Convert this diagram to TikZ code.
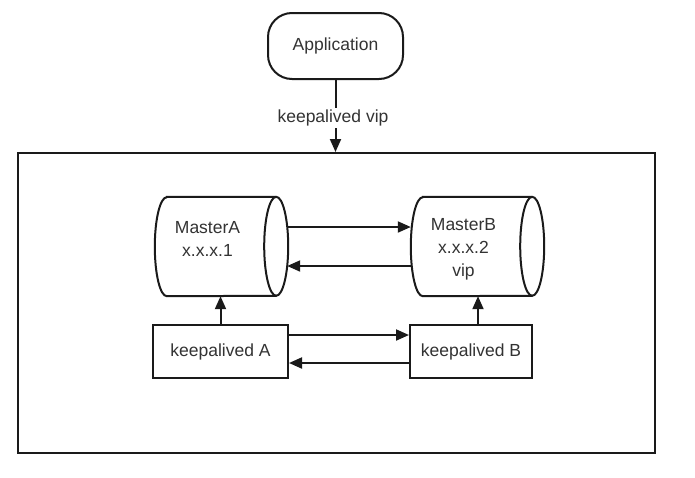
\documentclass[tikz,border=0pt]{standalone}
\usepackage{fontspec}
\setmainfont{Liberation Sans}
\usetikzlibrary{arrows.meta}
\definecolor{txtc}{HTML}{333333}
\definecolor{linec}{HTML}{1A1A1A}
\begin{document}
\begin{tikzpicture}[x=1pt,y=-1pt,
  ln/.style={draw=linec,line width=2pt},
  arr/.style={ln,-{Triangle[length=13pt,width=11pt]}},
  txt/.style={text=txtc,font=\fontsize{17.5}{23}\selectfont,align=center,inner sep=0pt},
  boxn/.style={ln,fill=white,minimum height=53pt,txt},
  cyl/.style={draw=none,minimum width=133pt,minimum height=99pt,inner sep=0pt}]
\useasboundingbox (0,0) rectangle (695,477);
% outer frame
\node[ln,minimum width=637pt,minimum height=300pt,inner sep=0pt] (frame) at (336.5,303) {};
% application
\node[ln,rounded corners=24pt,minimum width=135pt,minimum height=66pt,txt] (app) at (335.5,46) {Application};
\coordinate (appin) at (app.south |- frame.north);
\draw[arr] (app.south) -- (appin);
\node[txt,fill=white,inner sep=2pt] (viplbl) at (333,118) {keepalived vip};
% cylinders
\node[cyl] (ma) at (221.5,246.5) {};
\node[cyl] (mb) at (477.5,246.5) {};
\foreach \c in {ma,mb}{
  \draw[ln,fill=white] ([xshift=12pt]\c.north west) -- ([xshift=-12pt]\c.north east)
     arc[start angle=90,end angle=-90,x radius=12pt,y radius=49.5pt]
     -- ([xshift=12pt]\c.south west)
     arc[start angle=270,end angle=90,x radius=12pt,y radius=49.5pt] -- cycle;
  \draw[ln] ([xshift=-12pt]\c.north east) arc[start angle=90,end angle=270,x radius=12pt,y radius=49.5pt];
}
\node[txt] (mat) at ([xshift=-14pt,yshift=8pt]ma.center) {MasterA\\x.x.x.1};
\node[txt] (mbt) at ([xshift=-14pt,yshift=-3pt]mb.center) {MasterB\\x.x.x.2\\vip};
% keepalived boxes
\node[boxn,minimum width=135pt] (ka) at (220.5,351.5) {keepalived A};
\node[boxn,minimum width=122pt] (kb) at (471,351.5) {keepalived B};
% connectors
\draw[arr] ([yshift=19.5pt]ma.east) -- ([yshift=19.5pt]mb.west);
\draw[arr] ([yshift=-19.5pt]mb.west) -- ([xshift=-1pt,yshift=-19.5pt]ma.east);
\draw[arr] (ka.north) -- (ka.north |- ma.south);
\draw[arr] ([xshift=7pt]kb.north) -- ([xshift=7pt]kb.north |- mb.south);
\draw[arr] ([yshift=16.5pt]ka.east) -- ([yshift=16.5pt]kb.west);
\draw[arr] ([yshift=-11.5pt]kb.west) -- ([yshift=-11.5pt]ka.east);
\end{tikzpicture}
\end{document}
